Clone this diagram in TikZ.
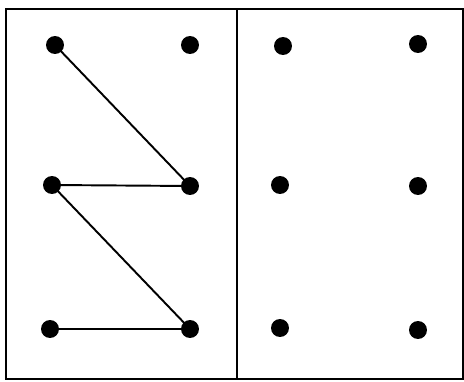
\documentclass[tikz,border=0pt]{standalone}
\usetikzlibrary{positioning}

\begin{document}
\begin{tikzpicture}[x=0.02cm, y=-0.02cm,
  punto/.style={circle, fill=black, inner sep=0pt, minimum size=0.36cm},
  raya/.style={line width=1.1pt}]
\useasboundingbox (0,0) rectangle (464,382);
% marco con dos paneles
\draw[line width=1.3pt] (6,9) rectangle (463,379);
\draw[line width=1.3pt] (237,9) -- (237,379);
% panel izquierdo: puntos
\node[punto] (a1) at (55,45) {};
\node[punto] (b1) at (190,45) {};
\node[punto] (a2) at (52,185) {};
\node[punto] (b2) at (190,186) {};
\node[punto] (a3) at (50,329) {};
\node[punto] (b3) at (190,329) {};
% panel derecho: puntos
\node[punto] (c1) at (283,46) {};
\node[punto] (d1) at (418,44) {};
\node[punto] (c2) at (280,185) {};
\node[punto] (d2) at (418,186) {};
\node[punto] (c3) at (280,328) {};
\node[punto] (d3) at (418,330) {};
% camino en zigzag
\draw[raya] (a1.center) -- (b2.center);
\draw[raya] (a2.center) -- (b2.center);
\draw[raya] (a2.center) -- (b3.center);
\draw[raya] (a3.center) -- (b3.center);
\end{tikzpicture}
\end{document}
